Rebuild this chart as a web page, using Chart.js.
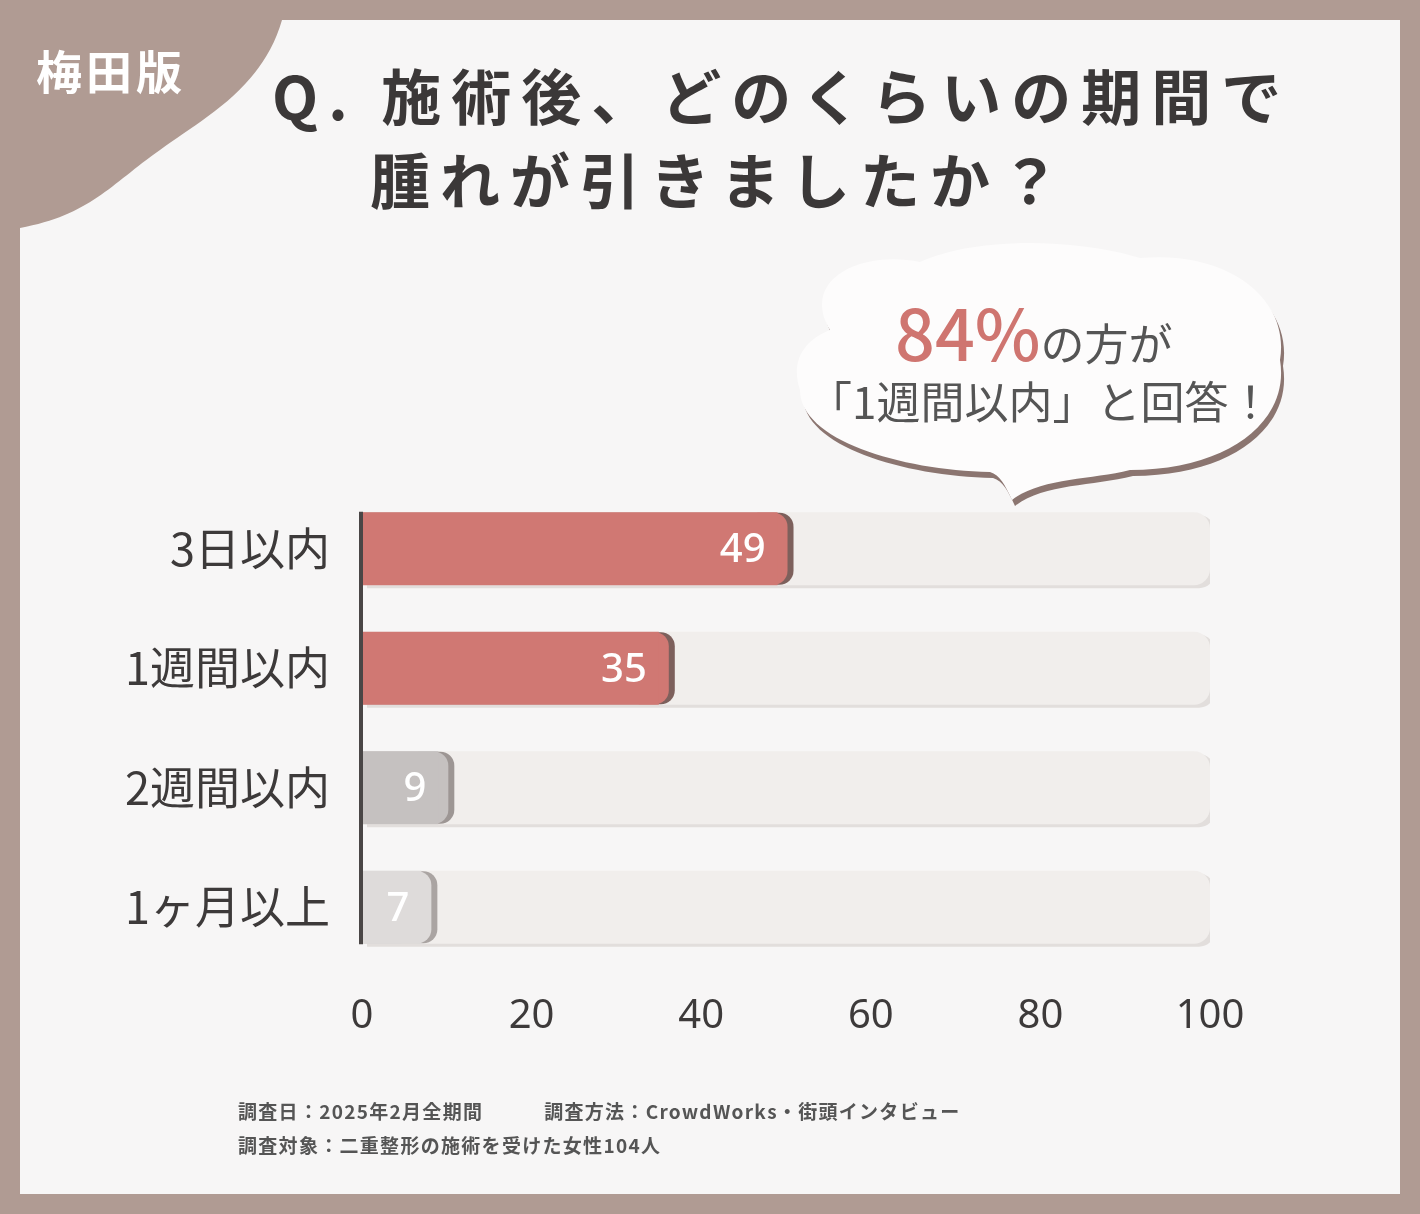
<!doctype html>
<html lang="ja">
<head>
<meta charset="utf-8">
<title>腫れが引く期間</title>
<style>
  html, body { margin: 0; padding: 0; }
  body { width: 1420px; height: 1214px; background: #b09b93; position: relative; overflow: hidden;
         font-family: "Noto Sans CJK JP", "Noto Sans", sans-serif; }
  #panel { position: absolute; left: 20px; top: 20px; width: 1380px; height: 1174px; background: #f7f6f6; }
  #chart { position: absolute; left: 0; top: 0; }
  .t { position: absolute; white-space: nowrap; }
  #title1 { left: 272px; top: 50px; font-size: 60px; font-weight: 700; color: #3b3838; letter-spacing: 10px; }
  #title2 { left: 370px; top: 134px; font-size: 60px; font-weight: 700; color: #3b3838; letter-spacing: 10px; }
  #badge { left: 36px; top: 36px; font-size: 46px; font-weight: 700; color: #fff; letter-spacing: 4px; }
  #b1 { left: 895px; top: 280px; font-size: 44px; color: #555; }
  #b1 span { font-size: 70px; color: #cf7570; font-weight: 500; }
  #b2 { left: 808px; top: 368px; font-size: 44px; color: #555; }
  .foot { left: 238px; font-size: 19px; font-weight: 700; color: #555; letter-spacing: 1.3px; }
</style>
</head>
<body>
<div id="panel"></div>
<svg width="1420" height="1214" style="position:absolute;left:0;top:0">
  <path d="M20 20 L282 20 C262 90 200 120 160 150 C110 185 90 215 20 228 Z" fill="#b09b93"/>
  <path d="M830 330 C800 280 860 250 920 262 C980 235 1080 240 1140 258 C1230 250 1290 300 1280 360 C1290 420 1230 470 1130 470 C1090 480 1040 478 1012 500 C1005 485 1000 475 990 472 C900 470 800 440 800 390 C790 360 805 340 830 330 Z" fill="#8b7570" transform="translate(3,6)"/>
  <path d="M830 330 C800 280 860 250 920 262 C980 235 1080 240 1140 258 C1230 250 1290 300 1280 360 C1290 420 1230 470 1130 470 C1090 480 1040 478 1012 500 C1005 485 1000 475 990 472 C900 470 800 440 800 390 C790 360 805 340 830 330 Z" fill="#fdfcfc"/>
  <circle cx="962" cy="525" r="11" fill="#fff" stroke="#8b7570" stroke-width="0"/>
  <circle cx="932" cy="545" r="5" fill="#fff"/>
</svg>
<canvas id="chart" width="1420" height="1214"></canvas>
<div class="t" id="badge">梅田版</div>
<div class="t" id="title1">Q. 施術後、どのくらいの期間で</div>
<div class="t" id="title2">腫れが引きましたか？</div>
<div class="t" id="b1"><span>84%</span>の方が</div>
<div class="t" id="b2">「1週間以内」と回答！</div>
<div class="t foot" style="top:1097px">調査日：2025年2月全期間　　　調査方法：CrowdWorks・街頭インタビュー</div>
<div class="t foot" style="top:1131px">調査対象：二重整形の施術を受けた女性104人</div>
<script src="https://cdn.jsdelivr.net/npm/chart.js@4/dist/chart.umd.min.js"></script>
<script>
  const categories = ['3日以内', '1週間以内', '2週間以内', '1ヶ月以上'];
  const values = [49, 35, 9, 7];
  const trackValues = [100, 100, 100, 100];
  const xTicks = [0, 20, 40, 60, 80, 100];

  const barColors = ['#d07873', '#d07873', '#c5c1c0', '#dedbda'];
  const shadowColors = ['#7d605c', '#7d605c', '#9d9694', '#aaa4a2'];

  const shadowPlugin = {
    id: 'shadows',
    beforeDatasetDraw(chart, args) {
      const ctx = chart.ctx;
      ctx.save();
      if (args.index === 1) {
        ctx.shadowColor = '#e2dedc';
        ctx.shadowOffsetX = 5;
        ctx.shadowOffsetY = 3;
      }
    },
    afterDatasetDraw(chart, args) {
      chart.ctx.restore();
      if (args.index !== 0) return;
      const ctx = chart.ctx;
      const meta = chart.getDatasetMeta(0);
      ctx.save();
      ctx.font = '500 40px "Noto Sans", sans-serif';
      ctx.fillStyle = '#fff';
      ctx.textAlign = 'right';
      ctx.textBaseline = 'middle';
      meta.data.forEach((bar, i) => {
        ctx.fillText(String(values[i]), bar.x - 12, bar.y + 2);
      });
      const x0 = chart.scales.x.getPixelForValue(0);
      ctx.fillStyle = '#4a4646';
      ctx.fillRect(x0 - 3, meta.data[0].y - 37, 4, meta.data[3].y - meta.data[0].y + 74);
      ctx.restore();
    }
  };

  const capPlugin = {
    id: 'caps',
    beforeDatasetDraw(chart, args) {
      if (args.index !== 0) return;
      const ctx = chart.ctx;
      chart.getDatasetMeta(0).data.forEach((bar, i) => {
        ctx.save();
        ctx.fillStyle = shadowColors[i];
        ctx.beginPath();
        ctx.roundRect(bar.base, bar.y - 36, bar.x - bar.base + 16, 72, [0, 14, 14, 0]);
        ctx.fill();
        ctx.fillStyle = barColors[i];
        ctx.beginPath();
        ctx.roundRect(bar.x - 20, bar.y - 36, 30, 72, [0, 14, 14, 0]);
        ctx.fill();
        ctx.restore();
      });
    }
  };

  new Chart(document.getElementById('chart'), {
    type: 'bar',
    data: {
      labels: categories,
      datasets: [
        { data: values, backgroundColor: barColors, grouped: false, order: 0,
          borderRadius: 0, borderSkipped: false },
        { data: trackValues, backgroundColor: '#f1eeec', grouped: false, order: 1,
          borderRadius: { topRight: 16, bottomRight: 16 }, borderSkipped: false }
      ]
    },
    options: {
      indexAxis: 'y',
      responsive: false,
      animation: false,
      layout: { padding: { top: 489, bottom: 167, right: 210, left: 0 } },
      plugins: { legend: { display: false }, tooltip: { enabled: false } },
      datasets: { bar: { categoryPercentage: 1, barPercentage: 0.61 } },
      scales: {
        x: {
          min: 0, max: 100,
          afterFit: s => { s.height = 80; },
          afterBuildTicks: s => { s.ticks = xTicks.map(v => ({ value: v })); },
          grid: { display: false }, border: { display: false },
          ticks: { padding: 18, color: '#3d3a3a', font: { size: 40, family: '"Noto Sans", sans-serif' } }
        },
        y: {
          afterFit: s => { s.width = 362; },
          grid: { display: false }, border: { display: false },
          ticks: { padding: 24, color: '#3d3a3a', font: { size: 45, family: '"Noto Sans CJK JP", sans-serif' } }
        }
      }
    },
    plugins: [capPlugin, shadowPlugin]
  });
</script>
</body>
</html>
